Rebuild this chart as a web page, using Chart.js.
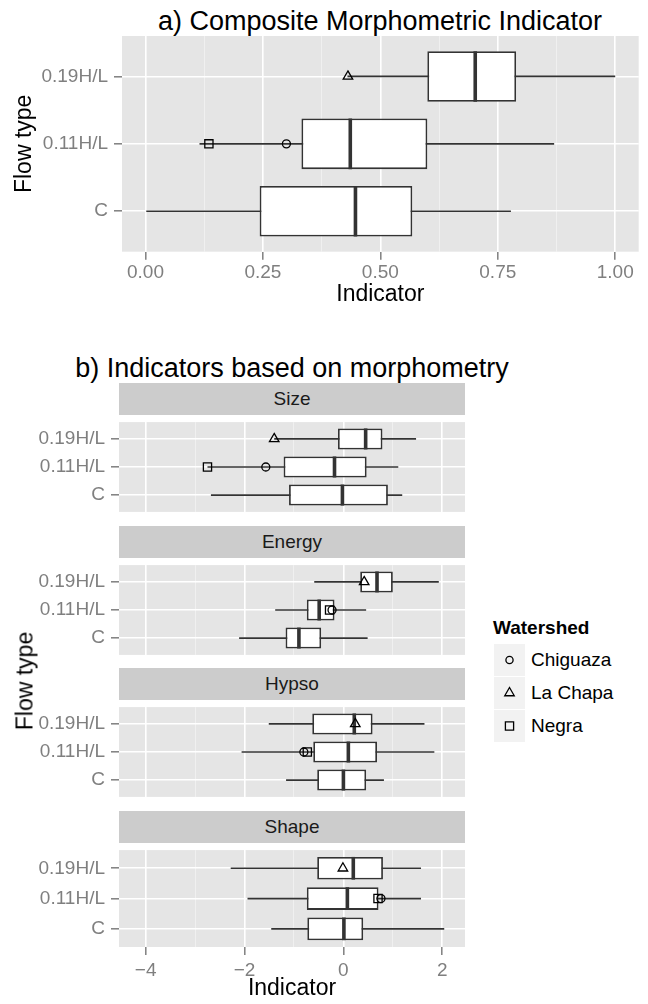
<!DOCTYPE html>
<html>
<head>
<meta charset="utf-8">
<script src="https://cdn.jsdelivr.net/npm/chart.js@4.4.1/dist/chart.umd.min.js"></script>
<style>
  html, body { margin: 0; padding: 0; background: #fff; }
  body { width: 648px; height: 1004px; position: relative; overflow: hidden;
         font-family: 'Liberation Sans', Arial, Helvetica, sans-serif; }
  canvas { position: absolute; left: 0; }
  .title { position: absolute; font-size: 27px; line-height: 1; white-space: nowrap; color: #000; transform: translateX(-50%); }
  .strip { position: absolute; left: 119px; width: 346px; height: 32px; background: #cccccc; color: #1a1a1a;
           font-size: 19px; display: flex; align-items: center; justify-content: center; }
  .ytitle { position: absolute; font-size: 23px; line-height: 1; white-space: nowrap; color: #000;
            transform: translate(-50%, -50%) rotate(-90deg); }
  .leg-title { position: absolute; left: 493px; top: 618px; font-size: 19px; font-weight: bold; line-height: 1; }
  .leg-key { position: absolute; left: 494px; width: 31px; height: 32px; background: #f2f2f2; }
  .leg-key canvas { position: static; }
  .leg-label { position: absolute; left: 531px; height: 32px; font-size: 19px; line-height: 32px; white-space: nowrap; }
</style>
</head>
<body>
<div class="title" style="left:380px; top:8px;">a) Composite Morphometric Indicator</div>
<canvas id="chartA" width="648" height="320" style="top:0px;"></canvas>

<div class="title" style="left:292px; top:355px;">b) Indicators based on morphometry</div>
<div id="facets"></div>
<div class="ytitle" style="left:25px; top:681px;">Flow type</div>
<div id="legend"></div>

<script>
const FONT = "'Liberation Sans', Arial, Helvetica, sans-serif";
const lineGrey = '#333333';
const tickGrey = '#7f7f7f';

// categories
const flowTypes = ['C', '0.11H/L', '0.19H/L'];
const watersheds = ['Chiguaza', 'La Chapa', 'Negra'];
const watershedFlow = ['0.11H/L', '0.19H/L', '0.11H/L'];
const watershedShape = ['circle', 'triangle', 'rect'];
const watershedRadius = [4, 5.5, 5.8];

// a) composite indicator, values per flow type (C, 0.11H/L, 0.19H/L)
const compMin = [0.00, 0.115, 0.43];
const compQ1 = [0.243, 0.332, 0.600];
const compMed = [0.447, 0.436, 0.702];
const compQ3 = [0.568, 0.600, 0.789];
const compMax = [0.778, 0.870, 1.000];
const compPoints = [0.30, 0.431, 0.135]; // Chiguaza, La Chapa, Negra
const compTicks = [0, 0.125, 0.25, 0.375, 0.5, 0.625, 0.75, 0.875, 1];
const compTickLabels = ['0.00', '', '0.25', '', '0.50', '', '0.75', '', '1.00'];

// b) indicators per facet, each row = (C, 0.11H/L, 0.19H/L)
const facetNames = ['Size', 'Energy', 'Hypso', 'Shape'];
const facetMin = [[-2.68, -2.75, -1.40], [-2.11, -1.38, -0.59], [-1.16, -2.06, -1.51], [-1.46, -1.94, -2.28]];
const facetQ1  = [[-1.10, -1.21, -0.11], [-1.17, -0.74, 0.34], [-0.53, -0.61, -0.63], [-0.73, -0.74, -0.53]];
const facetMed = [[-0.02, -0.18, 0.45], [-0.90, -0.49, 0.68], [0.00, 0.10, 0.22], [0.01, 0.08, 0.20]];
const facetQ3  = [[0.90, 0.47, 0.79], [-0.45, -0.18, 1.00], [0.46, 0.68, 0.59], [0.40, 0.71, 0.80]];
const facetMax = [[1.19, 1.11, 1.47], [0.49, 0.46, 1.93], [0.82, 1.84, 1.64], [2.04, 1.57, 1.57]];
// watershed values (Chiguaza, La Chapa, Negra)
const facetPoints = [[-1.57, -1.40, -2.75], [-0.23, 0.42, -0.28], [-0.80, 0.24, -0.73], [0.76, -0.01, 0.70]];
const indTicks = [-4, -3, -2, -1, 0, 1, 2];
const indTickLabels = ['\u22124', '', '\u22122', '', '0', '', '2'];

const panelBg = {
    id: 'panelBg',
    beforeDraw(chart) {
        const { ctx, chartArea: a } = chart;
        ctx.save();
        ctx.fillStyle = '#e5e5e5';
        ctx.fillRect(a.left, a.top, a.width, a.height);
        ctx.restore();
    }
};

function boxDatasets(mins, q1s, meds, q3s, maxs, pts) {
    const halfBox = (c) => {
        const s = c.chart.scales.y;
        return Math.abs(s.getPixelForValue(2) - s.getPixelForValue(1)) * 0.75 / 2;
    };
    const sets = [
        {
            type: 'bar', label: 'whisker', indexAxis: 'y', order: 4, grouped: false,
            data: flowTypes.map((f, i) => ({ x: [mins[i], maxs[i]], y: i + 1 })),
            backgroundColor: lineGrey, borderWidth: 0, barThickness: 1.7, inflateAmount: 0
        },
        {
            type: 'bar', label: 'box', indexAxis: 'y', order: 3, grouped: false,
            data: flowTypes.map((f, i) => ({ x: [q1s[i], q3s[i]], y: i + 1 })),
            backgroundColor: '#ffffff', borderColor: lineGrey, borderWidth: 1.8, borderSkipped: false,
            barPercentage: 0.75, categoryPercentage: 1, inflateAmount: 0
        },
        {
            type: 'scatter', label: 'median', order: 2,
            data: flowTypes.map((f, i) => ({ x: meds[i], y: i + 1 })),
            pointStyle: 'line', pointRotation: 90, pointRadius: halfBox,
            pointBorderColor: lineGrey, pointBorderWidth: 3.6
        }
    ];
    watersheds.forEach((w, k) => {
        sets.push({
            type: 'scatter', label: w, order: 1,
            data: [{ x: pts[k], y: flowTypes.indexOf(watershedFlow[k]) + 1 }],
            pointStyle: watershedShape[k], pointRadius: watershedRadius[k],
            pointBorderColor: '#000000', pointBorderWidth: 1.3, pointBackgroundColor: 'rgba(0,0,0,0)'
        });
    });
    return sets;
}

function makePanel(canvas, cfg) {
    const isMajor = (c) => c.tick && cfg.tickLabels[cfg.ticks.indexOf(c.tick.value)] !== '';
    return new Chart(canvas, {
        type: 'bar',
        data: { datasets: boxDatasets(cfg.min, cfg.q1, cfg.med, cfg.q3, cfg.max, cfg.pts) },
        options: {
            indexAxis: 'y',
            responsive: false,
            animation: false,
            devicePixelRatio: 1,
            events: [],
            layout: { padding: cfg.padding },
            plugins: { legend: { display: false }, tooltip: { enabled: false }, title: { display: false } },
            scales: {
                x: {
                    type: 'linear', min: cfg.xMin, max: cfg.xMax, bounds: 'data', beginAtZero: false,
                    offset: false,
                    border: { display: false },
                    afterBuildTicks: (s) => { s.ticks = cfg.ticks.map(v => ({ value: v })); },
                    afterFit: (s) => { s.height = cfg.xHeight; s.paddingLeft = 0; s.paddingRight = 0; },
                    ticks: {
                        display: cfg.showX, autoSkip: false, maxRotation: 0, minRotation: 0,
                        color: tickGrey, font: { family: FONT, size: 19 }, padding: cfg.xLabelPad,
                        callback: (v) => { const i = cfg.ticks.indexOf(v); return i < 0 ? '' : cfg.tickLabels[i]; }
                    },
                    grid: {
                        offset: false,
                        color: (c) => isMajor(c) ? '#ffffff' : '#f2f2f2',
                        lineWidth: (c) => isMajor(c) ? 1.6 : 0.8,
                        drawTicks: cfg.showX, tickLength: 8, tickWidth: 1.5,
                        tickColor: (c) => isMajor(c) ? tickGrey : 'rgba(0,0,0,0)'
                    },
                    title: cfg.xTitle ? {
                        display: true, text: cfg.xTitle, color: '#000',
                        font: { family: FONT, size: 23, lineHeight: 1 },
                        padding: { top: 0, bottom: cfg.xTitlePad }
                    } : { display: false }
                },
                y: {
                    type: 'linear', min: 0.4, max: 3.6, bounds: 'data', beginAtZero: false,
                    offset: false,
                    border: { display: false },
                    afterBuildTicks: (s) => { s.ticks = flowTypes.map((f, i) => ({ value: i + 1 })); },
                    afterFit: (s) => { s.width = cfg.yWidth; s.paddingTop = 0; s.paddingBottom = 0; },
                    ticks: {
                        autoSkip: false, color: tickGrey, font: { family: FONT, size: 19 }, padding: 6,
                        callback: (v) => flowTypes[Math.round(v) - 1]
                    },
                    grid: {
                        offset: false, color: '#ffffff', lineWidth: 1.6,
                        tickLength: 8, tickWidth: 1.5, tickColor: tickGrey
                    },
                    title: cfg.yTitle ? {
                        display: true, text: cfg.yTitle, color: '#000',
                        font: { family: FONT, size: 23, lineHeight: 1 },
                        padding: { top: 13.5, bottom: 0 }
                    } : { display: false }
                }
            }
        },
        plugins: [panelBg]
    });
}

// a) composite indicator
makePanel(document.getElementById('chartA'), {
    min: compMin, q1: compQ1, med: compMed, q3: compQ3, max: compMax, pts: compPoints,
    xMin: -0.05, xMax: 1.05, ticks: compTicks, tickLabels: compTickLabels,
    yWidth: 122, xHeight: 68.3, showX: true, xLabelPad: 1.6,
    xTitle: 'Indicator', xTitlePad: 13.5, yTitle: 'Flow type',
    padding: { left: 0, right: 9.3, top: 36, bottom: 0 }
});

// b) facets
const stripTops = [383, 525.6, 668.2, 810.8];
const facetsDiv = document.getElementById('facets');
facetNames.forEach((name, f) => {
    const strip = document.createElement('div');
    strip.className = 'strip';
    strip.style.top = stripTops[f] + 'px';
    strip.textContent = name;
    facetsDiv.appendChild(strip);

    const last = f === facetNames.length - 1;
    const top = stripTops[f] + 32;
    const h = last ? 1004 - top : 104;
    const cv = document.createElement('canvas');
    cv.width = 475;
    cv.height = Math.round(h);
    cv.style.top = top + 'px';
    facetsDiv.appendChild(cv);

    makePanel(cv, {
        min: facetMin[f], q1: facetQ1[f], med: facetMed[f], q3: facetQ3[f], max: facetMax[f], pts: facetPoints[f],
        xMin: -4.54, xMax: 2.46, ticks: indTicks, tickLabels: indTickLabels,
        yWidth: 119, xHeight: last ? Math.round(h) - 104 : 0, showX: last, xLabelPad: 4.3,
        xTitle: last ? 'Indicator' : null, xTitlePad: 4.1, yTitle: null,
        padding: { left: 0, right: 10, top: 0, bottom: 0 }
    });
});

// legend
const legend = document.getElementById('legend');
const legTitle = document.createElement('div');
legTitle.className = 'leg-title';
legTitle.textContent = 'Watershed';
legend.appendChild(legTitle);
watersheds.forEach((w, k) => {
    const top = 644 + k * 32.9;
    const key = document.createElement('div');
    key.className = 'leg-key';
    key.style.top = top + 'px';
    const c = document.createElement('canvas');
    c.width = 31; c.height = 32;
    key.appendChild(c);
    legend.appendChild(key);
    const ctx = c.getContext('2d');
    ctx.strokeStyle = '#000';
    ctx.fillStyle = 'rgba(0,0,0,0)';
    ctx.lineWidth = 1.3;
    const opts = { pointStyle: watershedShape[k], radius: k === 0 ? 3.6 : watershedRadius[k], borderWidth: 1.3, rotation: 0 };
    if (Chart.helpers && Chart.helpers.drawPoint) {
        Chart.helpers.drawPoint(ctx, opts, 15.5, 16);
    }
    const lab = document.createElement('div');
    lab.className = 'leg-label';
    lab.style.top = top + 'px';
    lab.textContent = w;
    legend.appendChild(lab);
});
</script>
</body>
</html>
